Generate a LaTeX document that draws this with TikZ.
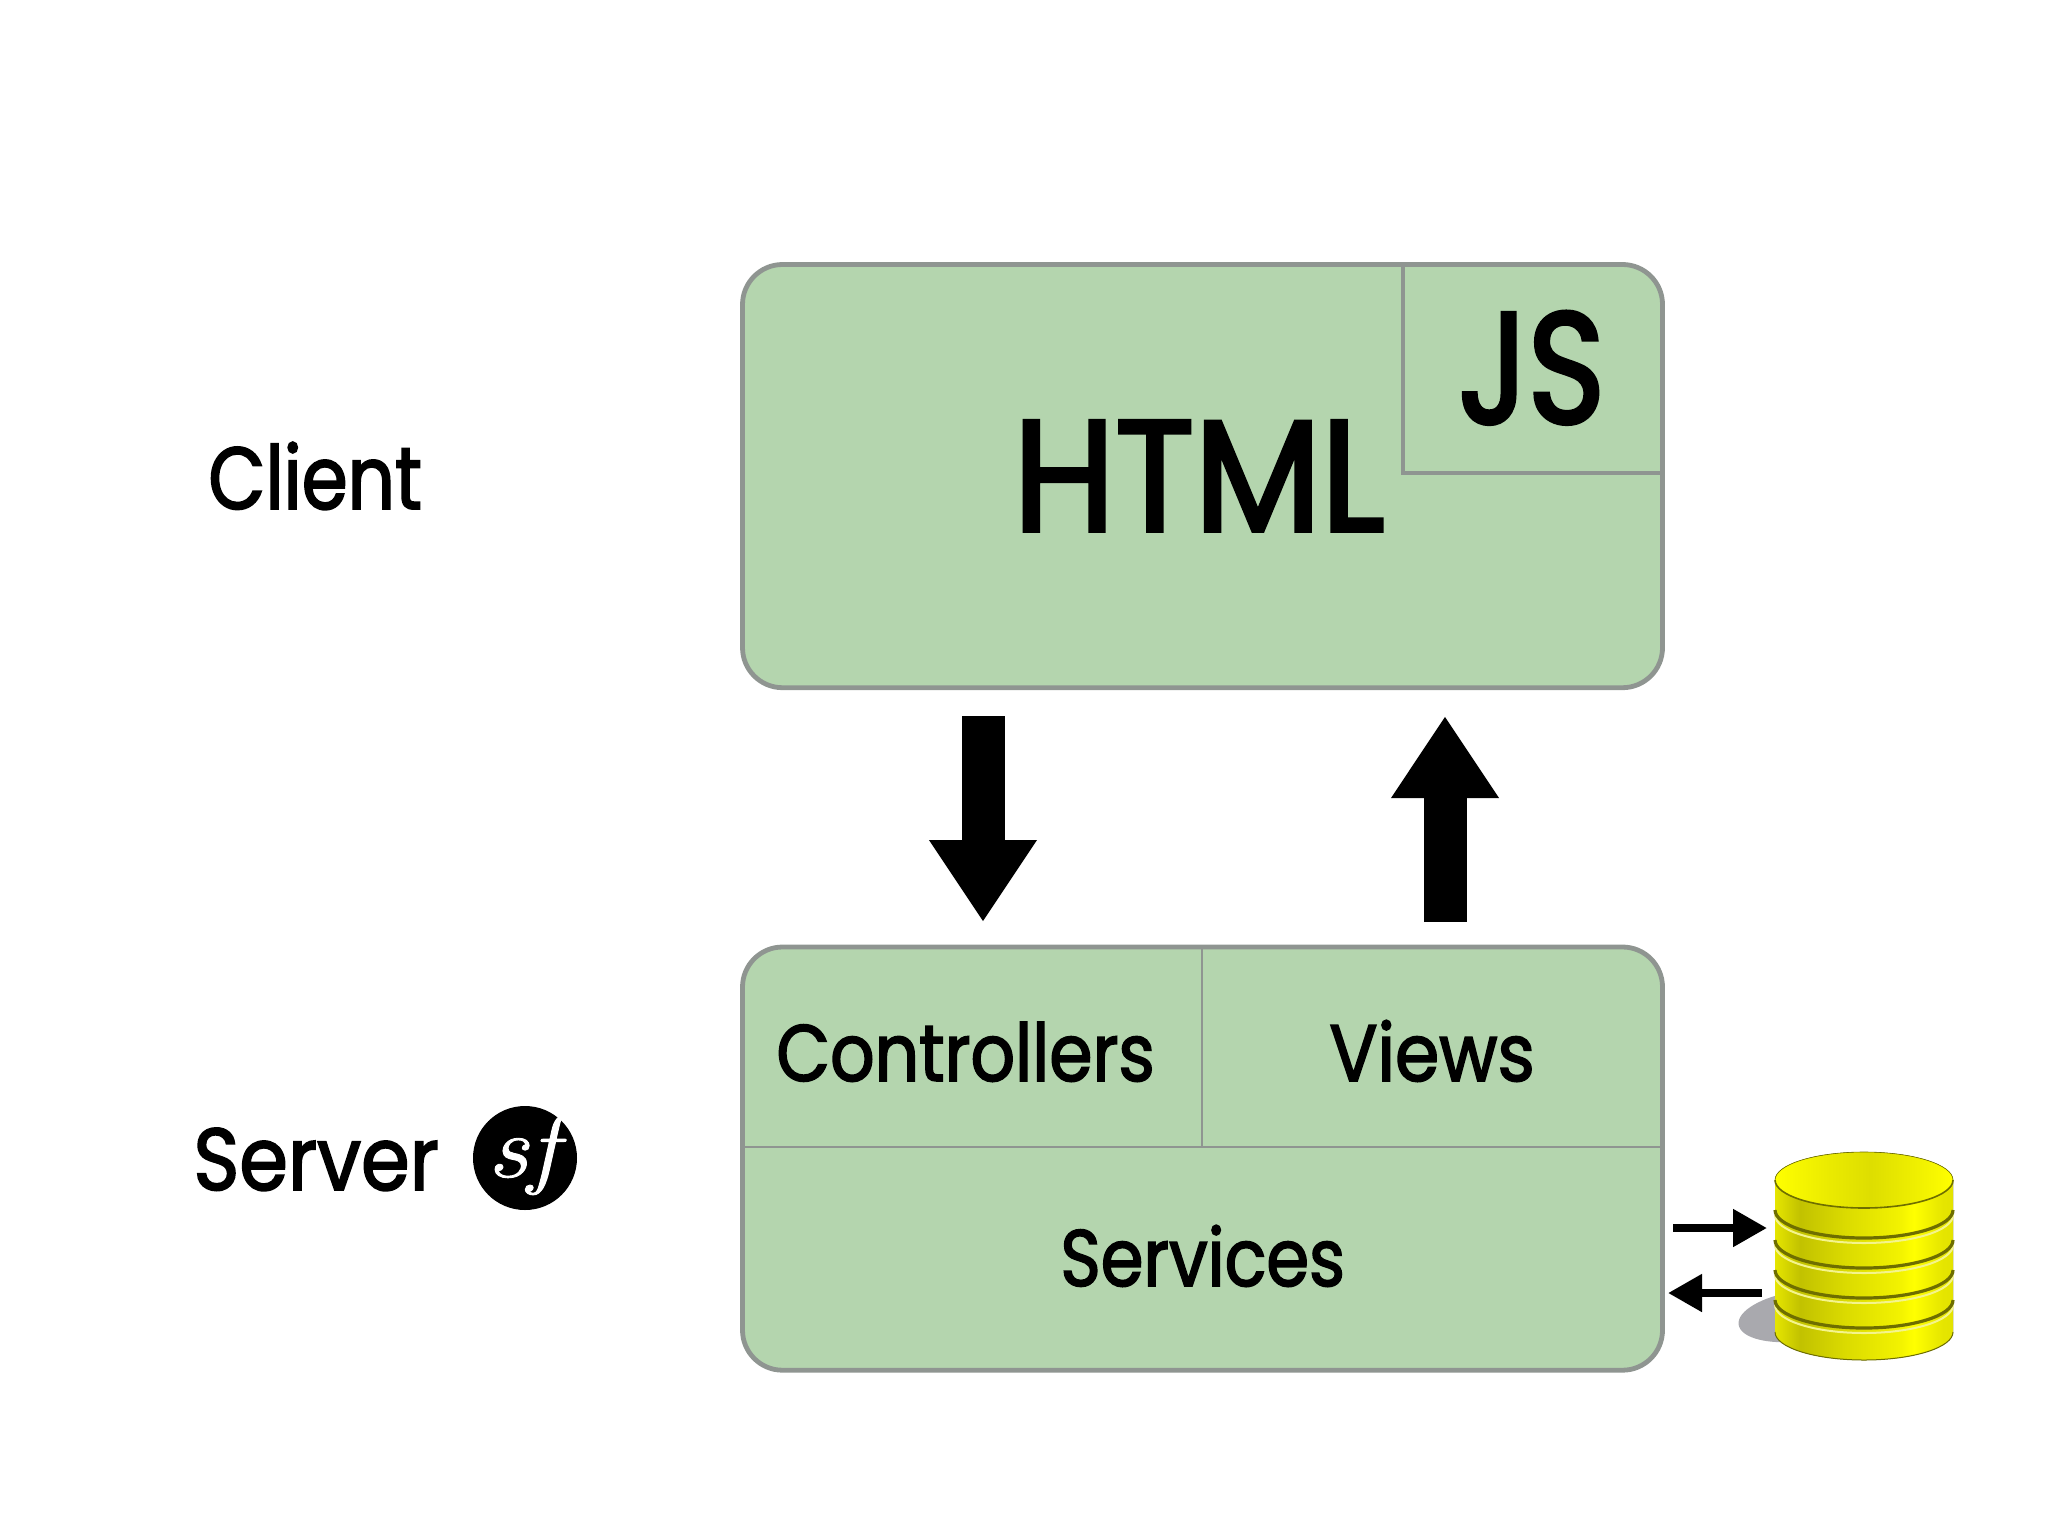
\documentclass[tikz,border=0pt]{standalone}
\usepackage{fontspec}
\setmainfont{Poppins}
\newfontfamily\logofont{Latin Modern Roman}
\usetikzlibrary{arrows.meta,calc}
\definecolor{boxfill}{HTML}{B4D5AE}
\definecolor{boxline}{HTML}{8F9591}
\definecolor{ringdark}{HTML}{6E6E00}
\definecolor{ringlight}{HTML}{F4F48C}
\definecolor{shadowgrey}{HTML}{A9A9AE}
\pgfdeclarehorizontalshading{dbside}{100bp}{
  color(0bp)=(yellow!90!black);
  color(25bp)=(yellow!90!black);
  color(32bp)=(yellow!76!black);
  color(45bp)=(yellow!86!black);
  color(60bp)=(yellow!95!black);
  color(64bp)=(yellow);
  color(72bp)=(yellow!90!black);
  color(100bp)=(yellow!80!black)}
\pgfdeclarehorizontalshading{dbtop}{100bp}{
  color(0bp)=(yellow);
  color(25bp)=(yellow);
  color(40bp)=(yellow!92!black);
  color(52bp)=(yellow!87!black);
  color(65bp)=(yellow!94!black);
  color(75bp)=(yellow);
  color(100bp)=(yellow)}
\tikzset{
  x=0.5pt,y=-0.5pt,
  bigbox/.style={draw=boxline,fill=boxfill,line width=2.4pt,rounded corners=20pt,inner sep=0pt,outer sep=0pt,minimum width=460pt,minimum height=211.6pt},
  divider/.style={draw=boxline,line width=1.2pt},
  jsline/.style={draw=boxline,line width=2.2pt},
  label/.style={anchor=base west,inner sep=0pt,text=black},
  biglabel/.style={label,font=\fontsize{79}{79}\selectfont},
  sidelabel/.style={label,font=\fontsize{44}{44}\selectfont},
  celllabel/.style={label,font=\fontsize{40}{40}\selectfont},
  bigarrow/.style={line width=21.5pt,-{Triangle[length=41pt,width=51pt]}},
  smallarrow/.style={line width=4pt,-{Triangle[length=17pt,width=18pt]}},
  ring/.style={line width=1.6pt,draw=ringdark},
  ringhi/.style={line width=1pt,draw=ringlight},
}
\newcommand{\squeezed}[3][2]{{\addfontfeatures{FakeStretch=#2,FakeBold=#1}#3}}
\begin{document}
\begin{tikzpicture}
\useasboundingbox (0,0) rectangle (2048,1536);
% boxes
\node[bigbox,anchor=north west] (clientbox) at (742.5,264.5) {};
\node[bigbox,anchor=north west] (serverbox) at (742.5,947) {};
% JS corner
\coordinate (jscornerT) at (1403,264.5);
\coordinate (jscorner) at (1403,473);
\coordinate (jscornerR) at (1665,473);
\draw[jsline] (jscornerT) -- (jscorner) -- (jscornerR);
% server dividers
\coordinate (divT) at (1202,947);
\coordinate (divM) at (1202,1147);
\coordinate (divL) at (742.5,1147);
\coordinate (divR) at (1662,1147);
\draw[divider] (divT) -- (divM);
\draw[divider] (divL) -- (divR);
% texts
\node[sidelabel] (client) at (208,509) {\squeezed{0.84}{Client}};
\node[sidelabel] (server) at (193,1190) {\squeezed{0.89}{Server}};
\node[biglabel] (html) at (1013,531) {\squeezed[2.5]{0.93}{HTML}};
\node[biglabel] (js) at (1458,423) {\squeezed[2.5]{0.83}{JS}};
\node[celllabel] (controllers) at (776,1081) {\squeezed{0.87}{Controllers}};
\node[celllabel] (views) at (1329,1081) {\squeezed{0.89}{Views}};
\node[celllabel] (services) at (1060,1286) {\squeezed{0.86}{Services}};
% logo
\node[circle,fill=black,minimum size=52pt,inner sep=0pt] (sflogo) at (525,1158) {};
\node[text=white,inner sep=0pt,xscale=1.15,font=\fontsize{44}{44}\selectfont\logofont\itshape\addfontfeatures{FakeBold=1}] (sftext) at (523,1155) {sf};
% big arrows
\coordinate (downS) at (983,716);
\coordinate (downE) at (983,922);
\coordinate (upS) at (1445,922);
\coordinate (upE) at (1445,716);
\draw[bigarrow] (downS) -- (downE);
\draw[bigarrow] (upS) -- (upE);
% database
\fill[shadowgrey,rotate around={8:(1800,1316)}] (1800,1316) ellipse [x radius=62,y radius=25];
\fill[shading=dbside] (1775,1180) -- (1775,1332) arc[start angle=180,end angle=360,x radius=89,y radius=-28] -- (1953,1180) -- cycle;
\foreach \yy in {1210,1240,1270,1300}{
  \draw[ringhi] (1775,\yy+5) arc[start angle=180,end angle=360,x radius=89,y radius=-28];
  \draw[ring] (1775,\yy) arc[start angle=180,end angle=360,x radius=89,y radius=-28];
}
\fill[shading=dbtop] (1864,1180) ellipse [x radius=89,y radius=28];
\draw[ringdark,line width=0.8pt] (1775,1180) arc[start angle=180,end angle=360,x radius=89,y radius=-28];
\draw[ringdark,line width=0.3pt] (1775,1180) arc[start angle=180,end angle=0,x radius=89,y radius=-28];
\draw[ringdark,line width=0.5pt] (1775,1332) arc[start angle=180,end angle=360,x radius=89,y radius=-28];
\coordinate (dbIn) at (1767,1228);
\coordinate (dbOut) at (1762,1293);
\coordinate (srvOut) at (1673,1228);
\coordinate (srvIn) at (1668,1293);
\draw[smallarrow] (srvOut) -- (dbIn);
\draw[smallarrow] (dbOut) -- (srvIn);
\end{tikzpicture}
\end{document}
